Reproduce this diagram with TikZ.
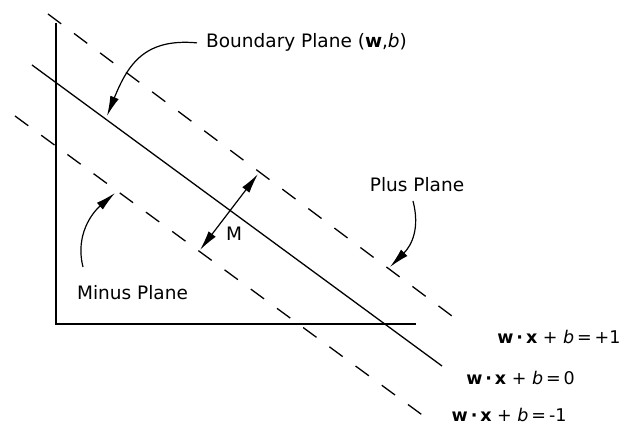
\documentclass[tikz,border=0pt]{standalone}
\usepackage{fontspec}
\setmainfont{DejaVu Sans}
\usetikzlibrary{arrows.meta}
\begin{document}
\begin{tikzpicture}[x=1pt,y=-1pt,
  ln/.style={line width=1.3pt,black},
  dsh/.style={ln,dash pattern=on 16.5pt off 16pt},
  lbl/.style={inner sep=0pt,font=\fontsize{18.5}{22}\selectfont},
  eq/.style={inner sep=0pt,font=\fontsize{17.5}{20}\selectfont},
  pointer/.style={line width=1.2pt,-{Latex[length=20pt,width=9pt]}},
  dbl/.style={line width=1.2pt,{Latex[length=20pt,width=9pt]}-{Latex[length=20pt,width=9pt]}}]
\useasboundingbox (0,0) rectangle (623,427);
% axes
\coordinate (ytop) at (56,23);
\coordinate (org) at (56,324);
\coordinate (xend) at (416,324);
\draw[ln] (ytop) -- (org) -- (xend);
% planes
\coordinate (b0) at (32,65);   \coordinate (b1) at (442,366);
\coordinate (p0) at (48,14);   \coordinate (p1) at (464,325);
\coordinate (m0) at (15,116);  \coordinate (m1) at (425,417);
\draw[ln] (b0) -- (b1);
\draw[dsh] (p0) -- (p1);
\draw[dsh] (m0) -- (m1);
% margin arrow
\coordinate (mlo) at (200,250);
\coordinate (mhi) at (258,174);
\draw[dbl] (mlo) -- (mhi);
\node[lbl,anchor=base] (M) at (234,241) {M};
% labels
\node[lbl,anchor=base west,inner xsep=9pt] (bnd) at (197,48) {Boundary Plane (\textbf{w},\textit{b})};
\node[lbl,anchor=base] (plus) at (417,192) {Plus Plane};
\node[lbl,anchor=base] (minus) at (132.5,299) {Minus Plane};
\node[eq,anchor=base east] (e1) at (620.7,343.3) {\textbf{w}\,\textbf{·}\,\textbf{x} + \textit{b}\,=\,+1};
\node[eq,anchor=base east] (e0) at (575,384.3) {\textbf{w}\,\textbf{·}\,\textbf{x} + \textit{b}\,=\,0};
\node[eq,anchor=base east] (em) at (566.7,421.7) {\textbf{w}\,\textbf{·}\,\textbf{x} + \textit{b}\,=\,-1};
% pointers
\coordinate (tb) at (107,116);
\coordinate (tp) at (390,267);
\coordinate (sp) at (413,201);
\coordinate (tm) at (115,193);
\coordinate (sm) at (83,267);
\draw[pointer] (bnd.west) .. controls (145,38) and (128,64) .. (tb);
\draw[pointer] (sp) .. controls (420,228) and (412,245) .. (tp);
\draw[pointer] (sm) .. controls (75,235) and (92,213) .. (tm);
\end{tikzpicture}
\end{document}
